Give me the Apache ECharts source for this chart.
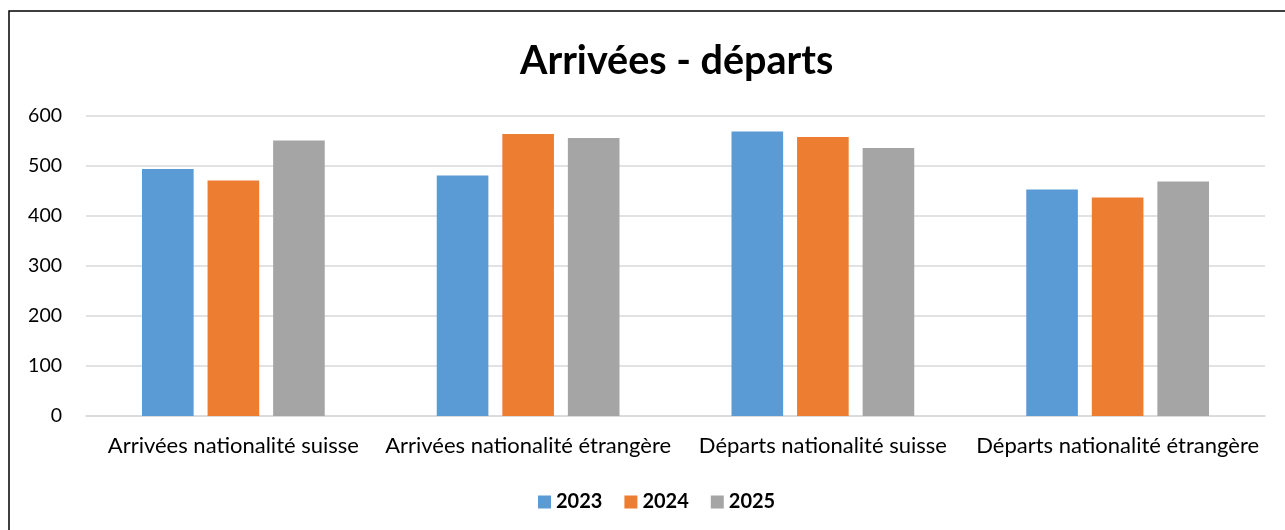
<!DOCTYPE html>
<html><head><meta charset="utf-8">
<script src="https://cdn.jsdelivr.net/npm/echarts@6/dist/echarts.min.js"></script>
<style>html,body{margin:0;padding:0;background:#fff}#c{width:1285px;height:530px}</style>
</head><body><div id="c"></div>
<script>
const categories = ['Arrivées nationalité suisse','Arrivées nationalité étrangère','Départs nationalité suisse','Départs nationalité étrangère'];
const seriesNames = ['2023','2024','2025'];
const v2023 = [494, 481, 569, 453];
const v2024 = [471, 564, 558, 437];
const v2025 = [551, 556, 536, 469];
const colors = ['#5b9bd5','#ed7d31','#a5a5a5'];
const FONT = 'Lato';
const chart = echarts.init(document.getElementById('c'));
const vals = [v2023, v2024, v2025];
chart.setOption({
  animation:false,
  textStyle:{fontFamily:FONT},
  title:{text:'Arrivées - départs',left:515,top:36,textStyle:{fontSize:39.5,fontWeight:'bold',color:'#000',fontFamily:FONT}},
  graphic:[{type:'rect',shape:{x:9,y:11,width:1400,height:700},style:{fill:'none',stroke:'#000',lineWidth:1.5},silent:true,z:-1}],
  legend:{bottom:13,left:533,itemWidth:13,itemHeight:13,itemGap:22,icon:'rect',
    textStyle:{fontSize:20,fontWeight:'bold',color:'#000',fontFamily:FONT},data:seriesNames},
  grid:{left:86,right:20,top:116,bottom:114,containLabel:false},
  xAxis:{type:'category',data:categories,axisTick:{show:false},
    axisLine:{lineStyle:{color:'#d9d9d9',width:1.5}},
    axisLabel:{fontSize:22,color:'#000',margin:19,fontFamily:FONT,interval:0}},
  yAxis:{type:'value',min:0,max:600,interval:100,
    axisLine:{show:false},axisTick:{show:false},
    splitLine:{lineStyle:{color:'#d9d9d9',width:1.5}},
    axisLabel:{fontSize:19.5,color:'#000',margin:24,fontFamily:FONT}},
  series: seriesNames.map((n,i)=>({name:n,type:'bar',data:vals[i],barCategoryGap:'38%',barGap:'27%',
    itemStyle:{color:colors[i]}}))
});
</script></body></html>
